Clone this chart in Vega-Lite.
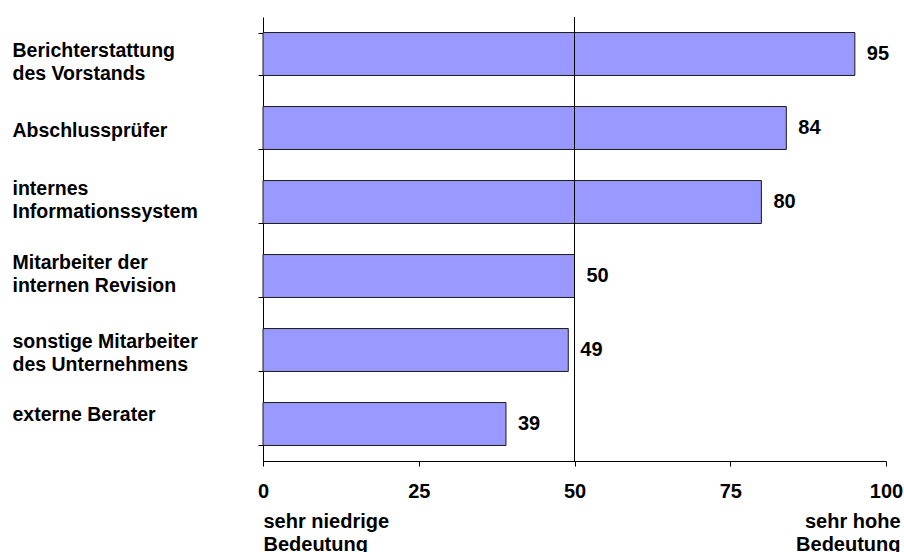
{
  "$schema": "https://vega.github.io/schema/vega-lite/v6.json",
  "width": 623,
  "height": 444,
  "autosize": {"type": "none"},
  "padding": {"left": 263, "top": 17, "right": 18, "bottom": 91},
  "config": {
    "font": "Liberation Sans",
    "view": {"stroke": null}
  },
  "data": {
    "values": [
      {"Quelle": "Berichterstattung\ndes Vorstands", "Bedeutung": 95},
      {"Quelle": "Abschlussprüfer", "Bedeutung": 84},
      {"Quelle": "internes\nInformationssystem", "Bedeutung": 80},
      {"Quelle": "Mitarbeiter der\ninternen Revision", "Bedeutung": 50},
      {"Quelle": "sonstige Mitarbeiter\ndes Unternehmens", "Bedeutung": 49},
      {"Quelle": "externe Berater", "Bedeutung": 39}
    ]
  },
  "layer": [
    {
      "mark": {"type": "bar", "fill": "#9999FF", "stroke": "#1a1a1a", "strokeWidth": 1},
      "encoding": {
        "y": {
          "field": "Quelle",
          "type": "nominal",
          "sort": null,
          "scale": {"paddingInner": 0.42, "paddingOuter": 0.21},
          "axis": {
            "title": null,
            "domainColor": "#000000",
            "tickColor": "#000000",
            "tickSize": 5,
            "tickBand": "extent",
            "labelAlign": "left",
            "labelBaseline": "middle",
            "labelPadding": 246,
            "labelFontSize": 19.5,
            "labelFontWeight": "bold",
            "labelColor": "#000000",
            "labelLineHeight": 23,
            "labelLimit": 300,
            "labelOverlap": false,
            "labelOffset": {
              "condition": [
                {"test": "datum.value == 'Berichterstattung\\ndes Vorstands'", "value": -4},
                {"test": "datum.value == 'Abschlussprüfer'", "value": 2},
                {"test": "datum.value == 'sonstige Mitarbeiter\\ndes Unternehmens'", "value": -9},
                {"test": "datum.value == 'externe Berater'", "value": -10}
              ],
              "value": -14
            },
            "labelExpr": "split(datum.label, '\\n')"
          }
        },
        "x": {
          "field": "Bedeutung",
          "type": "quantitative",
          "scale": {"domain": [0, 100]},
          "axis": {
            "values": [0, 25, 50, 75, 100],
            "grid": false,
            "domainColor": "#000000",
            "tickColor": "#000000",
            "tickSize": 5,
            "labelFontSize": 20,
            "labelFontWeight": "bold",
            "labelColor": "#000000",
            "labelBaseline": "alphabetic",
            "labelPadding": 31,
            "labelFlush": false,
            "title": ["sehr niedrige", "Bedeutung"],
            "titleFontSize": 20,
            "titleFontWeight": "bold",
            "titleColor": "#000000",
            "titleAlign": "left",
            "titleAnchor": "start",
            "titleBaseline": "alphabetic",
            "titleLineHeight": 23,
            "titleX": 0,
            "titleY": 66
          }
        }
      }
    },
    {
      "data": {"values": [{"Mitte": 50}]},
      "mark": {"type": "rule", "color": "#000000", "strokeWidth": 1},
      "encoding": {
        "x": {"field": "Mitte", "type": "quantitative", "axis": null}
      }
    },
    {
      "mark": {
        "type": "text",
        "align": "left",
        "baseline": "middle",
        "dx": 12,
        "fontSize": 20,
        "fontWeight": "bold",
        "color": "#000000"
      },
      "encoding": {
        "y": {"field": "Quelle", "type": "nominal", "sort": null},
        "x": {
          "field": "Bedeutung",
          "type": "quantitative",
          "axis": {
            "orient": "bottom",
            "domain": false,
            "ticks": false,
            "labels": false,
            "grid": false,
            "title": ["sehr hohe", "Bedeutung"],
            "titleFontSize": 20,
            "titleFontWeight": "bold",
            "titleColor": "#000000",
            "titleAlign": "right",
            "titleAnchor": "end",
            "titleBaseline": "alphabetic",
            "titleLineHeight": 23,
            "titleX": 637,
            "titleY": 66
          }
        },
        "text": {"field": "Bedeutung", "type": "quantitative"}
      }
    }
  ],
  "resolve": {"axis": {"x": "independent"}}
}
